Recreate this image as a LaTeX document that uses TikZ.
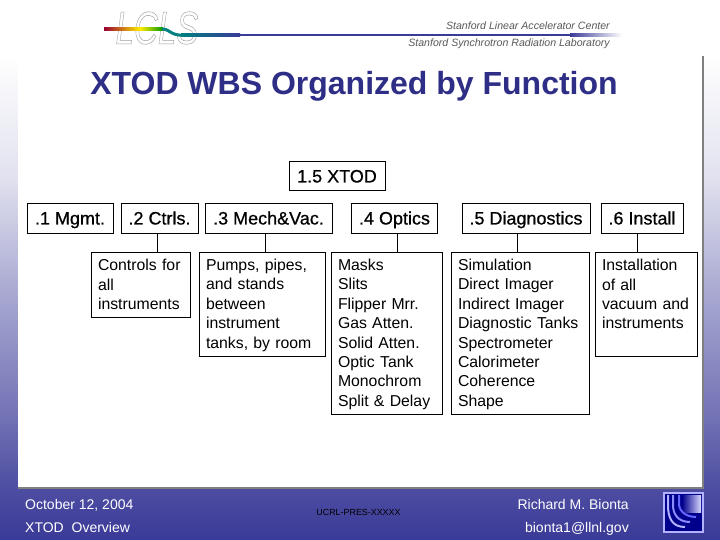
\documentclass[tikz,border=0pt]{standalone}
\usepackage{fontspec}
\setmainfont{Liberation Sans}
\newfontface\headfont{Liberation Sans}[FakeBold=0.6]
\usetikzlibrary{calc}
\definecolor{slideblue}{HTML}{3A3A98}
\definecolor{titleblue}{HTML}{2E2E86}
\definecolor{panelshadow}{HTML}{7F7F7F}
\pgfdeclareverticalshading{slidefade}{100bp}{color(0bp)=(slideblue); color(25bp)=(slideblue); color(30.5bp)=(slideblue!90!white); color(37.5bp)=(slideblue!72!white); color(50bp)=(slideblue!45!white); color(62.5bp)=(slideblue!15!white); color(75bp)=(white); color(100bp)=(white)}
\tikzset{
    headbox/.style={draw, line width=1pt, inner sep=0pt, outer sep=0pt, anchor=center, text height=14pt, text depth=2pt, minimum height=29pt, font=\fontsize{18}{19.4}\headfont},
    listbox/.style 2 args={draw, line width=1pt, anchor=north west, align=left, inner xsep=6.5pt, inner ysep=0pt, outer sep=0pt,
        text width=#1pt-13pt, minimum height=#2pt, font=\fontsize{15.8}{19.4}\selectfont,
        execute at begin node={\rule{0pt}{14pt}}, execute at end node={\rule[-3pt]{0pt}{3pt}}},
    footnote/.style={text=white, inner sep=0pt, font=\fontsize{14}{16}\selectfont},
    labnote/.style={text=black!65, inner sep=0pt, anchor=east, font=\fontsize{10.6}{12}\itshape},
}
\begin{document}
\begin{tikzpicture}[x=1pt, y=-1pt]
    \useasboundingbox (0,0) rectangle (720,540);

    \fill[white] (0,0) rectangle (720,540);
    \shade[shading=slidefade] (0,55) rectangle (720,540);
    \fill[white] (18,55) rectangle (702,487);
    \fill[panelshadow] (702,56) rectangle (704,489);
    \fill[panelshadow] (18,487) rectangle (704,489);

    \node[inner sep=0pt, xscale=0.72, transform shape, font=\fontsize{46}{46}\itshape] (lcls) at (157,28) {\special{pdf:code q 1 Tr 0.5 w 0.62 G}LCLS\special{pdf:code Q}};
    \shade[left color=purple!80!black, right color=yellow!85!orange] (104,27.5) rectangle (140,31);
    \shade[left color=yellow!85!orange, right color=green!60!black] (140,27.5) rectangle (163,31);
    \draw[teal, line width=3pt] (162,29) .. controls (170,29) and (170,35.2) .. (182,35.2);
    \shade[left color=teal, right color=slideblue] (181,34) rectangle (240,36.5);
    \fill[slideblue] (240,34) rectangle (570,36.5);
    \shade[left color=slideblue, right color=white] (570,34) rectangle (622,36.5);

    \node[labnote] (slac) at (610,26) {Stanford Linear Accelerator Center};
    \node[labnote] (ssrl) at (610,44) {Stanford Synchrotron Radiation Laboratory};

    \node[text=titleblue, inner sep=0pt, anchor=base, font=\fontsize{32}{36}\bfseries] (title) at (354,95) {XTOD WBS Organized by Function};

    \node[headbox, minimum width=96pt] (xtod) at (337,176.5) {1.5 XTOD};
    \node[headbox, minimum width=86pt] (mgmt) at (70,218.5) {.1 Mgmt.};
    \node[headbox, minimum width=77pt] (ctrls) at (159.5,218.5) {.2 Ctrls.};
    \node[headbox, minimum width=127pt] (mech) at (268.5,218.5) {.3 Mech\&Vac.};
    \node[headbox, minimum width=86pt] (optics) at (394.5,218.5) {.4 Optics};
    \node[headbox, minimum width=128pt] (diag) at (526,218.5) {.5 Diagnostics};
    \node[headbox, minimum width=82pt] (install) at (642,218.5) {.6 Install};

    \node[listbox={99}{65}] (ctrlslist) at (91.5,252) {Controls for\\all\\instruments};
    \node[listbox={125.5}{104}] (mechlist) at (199.5,252) {Pumps, pipes,\\and stands\\between\\instrument\\tanks, by room};
    \node[listbox={111}{162}] (opticslist) at (331.5,252) {Masks\\Slits\\Flipper Mrr.\\Gas Atten.\\Solid Atten.\\Optic Tank\\Monochrom\\Split \& Delay};
    \node[listbox={137.5}{162}] (diaglist) at (451.5,252) {Simulation\\Direct Imager\\Indirect Imager\\Diagnostic Tanks\\Spectrometer\\Calorimeter\\Coherence\\Shape};
    \node[listbox={101.5}{104}] (installlist) at (595.5,252) {Installation\\of all\\vacuum and\\instruments\\\mbox{}};

    \foreach \headname/\listname/\xpos in {ctrls/ctrlslist/157.5, mech/mechlist/265, optics/opticslist/397, diag/diaglist/517, install/installlist/637}
        \draw[line width=1pt] (\headname.south -| \xpos,0) -- (\listname.north -| \xpos,0);

    \node[footnote, anchor=base west] (date) at (25,509) {October 12, 2004};
    \node[footnote, anchor=base west] (talk) at (25,532) {XTOD\ \ Overview};
    \node[footnote, anchor=base east] (author) at (629,509) {Richard M. Bionta};
    \node[footnote, anchor=base east] (email) at (629,532) {bionta1@llnl.gov};
    \node[text=black, inner sep=0pt, font=\fontsize{8.9}{10}\selectfont] (ucrl) at (358.5,512) {UCRL-PRES-XXXXX};

    \draw[blue!30!white, line width=1.5pt, fill=blue!55!black] (664,493) rectangle (703,532);
    \shade[left color=blue!55!black, right color=blue!15!white] (682,495) rectangle (701,512);
    \foreach \xoff/\yoff/\shadeval in {0/0/30, 5/-5/45, 11/-10/60}
        \draw[blue!\shadeval!white, line width=2pt] ({668+\xoff},495) -- ({668+\xoff},505) .. controls ({668+\xoff},{518+\yoff}) and ({672+\xoff},{527+\yoff}) .. ({685+\xoff},{527+\yoff});
\end{tikzpicture}
\end{document}
